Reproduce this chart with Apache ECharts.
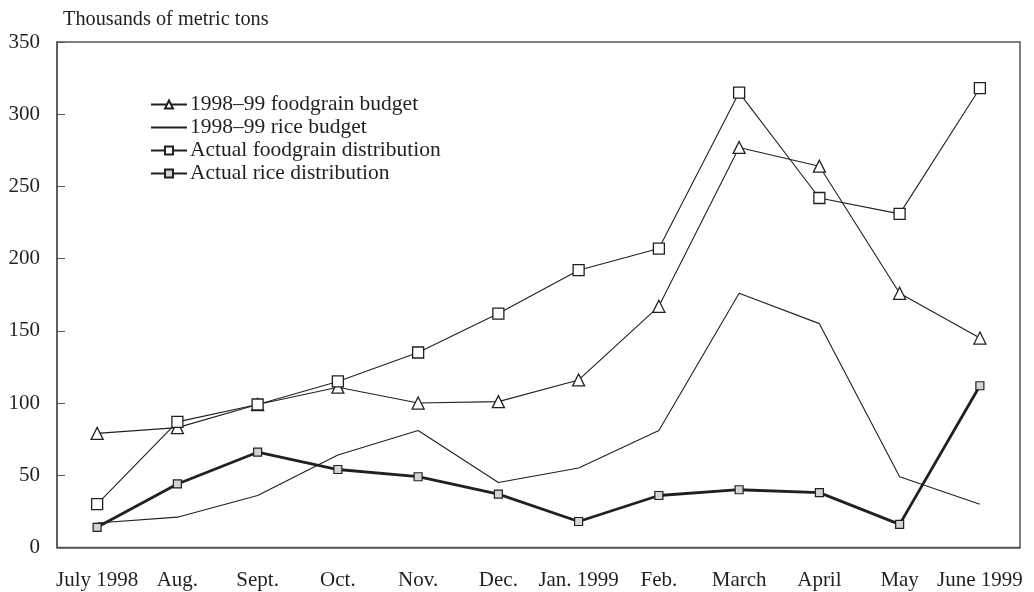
<!DOCTYPE html>
<html>
<head>
<meta charset="utf-8">
<script src="https://cdn.jsdelivr.net/npm/echarts@6/dist/echarts.min.js"></script>
<style>html,body{margin:0;padding:0;background:#fff}#c{width:1034px;height:592px}</style>
</head>
<body>
<div id="c"></div>
<script>
var months = ['July 1998','Aug.','Sept.','Oct.','Nov.','Dec.','Jan. 1999','Feb.','March','April','May','June 1999'];
var foodgrainBudget = [79, 83, 99, 111, 100, 101, 116, 167, 277, 264, 176, 145];
var riceBudget = [17, 21, 36, 64, 81, 45, 55, 81, 176, 155, 49, 30];
var actualFoodgrain = [30, 87, 99, 115, 135, 162, 192, 207, 315, 242, 231, 318];
var actualRice = [14, 44, 66, 54, 49, 37, 18, 36, 40, 38, 16, 112];
var yTicks = [0, 50, 100, 150, 200, 250, 300, 350];

var FONT = '"Liberation Serif", "DejaVu Serif", serif';
var INK = '#231f20';

var chart = echarts.init(document.getElementById('c'), null, {renderer: 'canvas'});
chart.setOption({
  animation: false,
  backgroundColor: '#fff',
  title: {
    text: 'Thousands of metric tons',
    left: 58, top: 5,
    textStyle: {fontFamily: FONT, fontSize: 20.3, fontWeight: 'normal', color: INK}
  },
  legend: {
    orient: 'vertical',
    left: 150, top: 93, padding: 0,
    itemWidth: 36, itemHeight: 10, itemGap: 0,
    textStyle: {fontFamily: FONT, fontSize: 21.5, color: INK, lineHeight: 23, padding: [0, 0, 0, -2]},
    data: [
      {name: '1998–99 foodgrain budget'},
      {name: '1998–99 rice budget', itemStyle: {color: 'rgba(0,0,0,0)', borderColor: 'rgba(0,0,0,0)', borderWidth: 0}},
      {name: 'Actual foodgrain distribution'},
      {name: 'Actual rice distribution'}
    ]
  },
  grid: {left: 57, right: 14, top: 42, bottom: 44.5, show: true, borderColor: '#555', borderWidth: 1.5, backgroundColor: 'transparent'},
  xAxis: {
    type: 'category', data: months, boundaryGap: true,
    axisLine: {lineStyle: {color: '#555', width: 1.5}},
    axisTick: {alignWithLabel: true, inside: true, length: 5, lineStyle: {color: '#555', width: 1}},
    axisLabel: {fontFamily: FONT, fontSize: 21, color: INK, margin: 22, interval: 0},
    splitLine: {show: false}
  },
  yAxis: {
    type: 'value', min: 0, max: 350, interval: 50,
    axisLine: {show: true, lineStyle: {color: '#555', width: 1.5}},
    axisTick: {show: true, inside: true, length: 8, lineStyle: {color: '#555', width: 1}},
    axisLabel: {fontFamily: FONT, fontSize: 21, color: INK, margin: 17,
      formatter: function(v){ return yTicks.indexOf(v) >= 0 ? String(v) : ''; }},
    splitLine: {show: false}
  },
  series: [
    {
      name: '1998–99 foodgrain budget', type: 'line', data: foodgrainBudget,
      symbol: 'triangle', symbolSize: 12, showAllSymbol: true,
      lineStyle: {color: INK, width: 1.1},
      itemStyle: {color: '#fff', borderColor: INK, borderWidth: 1.3}, z: 3
    },
    {
      name: '1998–99 rice budget', type: 'line', data: riceBudget,
      symbol: 'none',
      lineStyle: {color: INK, width: 1.1},
      itemStyle: {color: INK}, z: 2
    },
    {
      name: 'Actual foodgrain distribution', type: 'line', data: actualFoodgrain,
      symbol: 'rect', symbolSize: 11, showAllSymbol: true,
      lineStyle: {color: INK, width: 1.1},
      itemStyle: {color: '#fff', borderColor: INK, borderWidth: 1.3}, z: 4
    },
    {
      name: 'Actual rice distribution', type: 'line', data: actualRice,
      symbol: 'rect', symbolSize: 8, showAllSymbol: true,
      lineStyle: {color: INK, width: 2.8},
      itemStyle: {color: '#d4d4d4', borderColor: INK, borderWidth: 1.2}, z: 5
    }
  ]
});
</script>
</body>
</html>
